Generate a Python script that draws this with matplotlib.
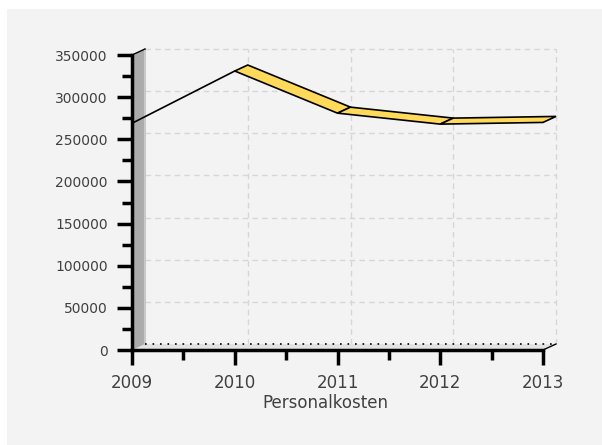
import matplotlib.pyplot as plt
from matplotlib.patches import Polygon, Rectangle

years = [2009, 2010, 2011, 2012, 2013]
kosten = [269000, 331000, 281000, 268000, 270000]
y_ticks = [0, 50000, 100000, 150000, 200000, 250000, 300000, 350000]
x_label = "Personalkosten"

W, H = 602, 445
fig = plt.figure(figsize=(W / 100, H / 100), dpi=100)
fig.patch.set_facecolor("white")
fig.patches.append(Rectangle((7 / W, 0), 1 - 7 / W, 1 - 9 / H, transform=fig.transFigure,
                             facecolor="#f3f3f3", edgecolor="none", zorder=-10))

# front plane: x 132..543 px, y 350..55 px
ax = fig.add_axes([132 / W, 1 - 350 / H, (543 - 132) / W, (350 - 55) / H])
ax.set_xlim(2009, 2013)
ax.set_ylim(0, 350000)
ax.patch.set_visible(False)
for s in ax.spines.values():
    s.set_visible(False)

# depth offset in data units (~13 px right, ~6 px up)
dx = 13 / 102.75
dy = 6 / 295 * 350000

# back grid
for v in y_ticks[1:]:
    ax.plot([2009 + dx, 2013 + dx], [v + dy, v + dy], color="#d6d6d6", lw=1,
            ls=(0, (4, 3)), clip_on=False, zorder=1)
for yr in years[1:]:
    ax.plot([yr + dx, yr + dx], [dy, 350000 + dy], color="#d6d6d6", lw=1,
            ls=(0, (4, 3)), clip_on=False, zorder=1)

# floor
ax.add_patch(Polygon([(2009, 0), (2013, 0), (2013 + dx, dy), (2009 + dx, dy)],
                     closed=True, facecolor="#e2e2e2", edgecolor="none", clip_on=False, zorder=2))
ax.plot([2009 + dx, 2013 + dx], [dy, dy], color="black", lw=1.2, ls=(0, (1, 3.5)),
        clip_on=False, zorder=3)
ax.plot([2013, 2013 + dx], [0, dy], color="black", lw=1, clip_on=False, zorder=3)

# left wall
ax.add_patch(Polygon([(2009, 0), (2009, 350000), (2009 + dx, 350000 + dy), (2009 + dx, dy)],
                     closed=True, facecolor="#ababab", edgecolor="none", clip_on=False, zorder=2))
ax.plot([2009 + dx, 2009 + dx], [dy, 350000 + dy], color="#c8c8c8", lw=1.5, clip_on=False, zorder=2)
ax.plot([2009, 2009 + dx], [350000, 350000 + dy], color="black", lw=1, clip_on=False, zorder=3)

# series: plain line for the first segment, ribbons after
ax.plot(years[:2], kosten[:2], color="black", lw=1.2, clip_on=False, zorder=5)
for i in range(1, len(years) - 1):
    x0, x1 = years[i], years[i + 1]
    y0, y1 = kosten[i], kosten[i + 1]
    ax.add_patch(Polygon([(x0, y0), (x1, y1), (x1 + dx, y1 + dy), (x0 + dx, y0 + dy)],
                         closed=True, facecolor="#ffd95a", edgecolor="black", lw=1.2,
                         clip_on=False, zorder=5))

# axes lines
ax.plot([2009, 2009], [0, 350000], color="black", lw=2.5, clip_on=False, zorder=6)
ax.plot([2009, 2013], [0, 0], color="black", lw=2.5, clip_on=False, zorder=6)

ax.set_yticks(y_ticks)
ax.set_yticklabels([str(v) for v in y_ticks])
ax.set_yticks(range(25000, 350000, 50000), minor=True)
ax.set_xticks(years)
ax.set_xticklabels([str(y) for y in years])
ax.set_xticks([2009.5, 2010.5, 2011.5, 2012.5], minor=True)
ax.tick_params(axis="both", which="major", length=10.5, width=2.5, color="black",
               labelcolor="#404040", direction="out")
ax.tick_params(axis="both", which="minor", length=7, width=2.5, color="black")
ax.tick_params(axis="y", which="major", pad=7, labelsize=10)
ax.tick_params(axis="x", which="major", pad=7, labelsize=12)
ax.set_xlabel(x_label, fontsize=12, color="#404040", labelpad=1)
ax.xaxis.label.set_x((325 - 132) / (543 - 132))

fig.savefig("out.png", dpi=100, facecolor=fig.get_facecolor())
